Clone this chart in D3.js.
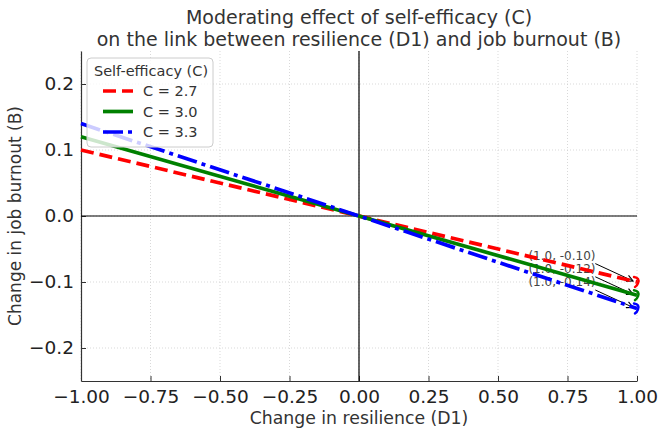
<!DOCTYPE html>
<html><head><meta charset="utf-8">
<script src="https://cdn.jsdelivr.net/npm/d3@7"></script>
<style>body{margin:0;background:#fff;} svg{display:block;font-family:"DejaVu Sans",sans-serif;}</style>
</head><body>
<svg id="chart" width="662" height="435"></svg>
<script>
const seriesNames = ["C = 2.7", "C = 3.0", "C = 3.3"];
const seriesColors = ["#ff0000", "#008000", "#0000ff"];
const slopes = [-0.10, -0.12, -0.14];
const xValues = [-1.0, 1.0];
const xTicks = [-1.0, -0.75, -0.5, -0.25, 0.0, 0.25, 0.5, 0.75, 1.0];
const yTicks = [-0.2, -0.1, 0.0, 0.1, 0.2];
const annotLabels = ["(1.0, -0.10)", "(1.0, -0.12)", "(1.0, -0.14)"];

const svg = d3.select("#chart");
const L = 81, R = 637, T = 51, B = 381;
const x = d3.scaleLinear().domain([-1, 1]).range([L, R]);
const y = d3.scaleLinear().domain([-0.25, 0.25]).range([B, T]);

// grid
const g = svg.append("g");
g.selectAll(".vg").data(xTicks).join("line")
  .attr("x1", d => x(d)).attr("x2", d => x(d)).attr("y1", T).attr("y2", B)
  .attr("stroke", "#cfcfcf").attr("stroke-width", 0.8).attr("stroke-dasharray", "1,2");
g.selectAll(".hg").data(yTicks).join("line")
  .attr("x1", L).attr("x2", R).attr("y1", d => y(d)).attr("y2", d => y(d))
  .attr("stroke", "#cfcfcf").attr("stroke-width", 0.8).attr("stroke-dasharray", "1,2");

// axes
const xAxis = d3.axisBottom(x).tickValues(xTicks).tickFormat(d3.format(".2f")).tickSizeInner(-5).tickSizeOuter(0).tickPadding(9);
const yAxis = d3.axisLeft(y).tickValues(yTicks).tickFormat(d3.format(".1f")).tickSizeInner(-5).tickSizeOuter(0).tickPadding(7);
const gx = svg.append("g").attr("transform", `translate(0,${B})`).call(xAxis);
const gy = svg.append("g").attr("transform", `translate(${L},0)`).call(yAxis);
[gx, gy].forEach(a => {
  a.selectAll("text").attr("font-size", 18.5).attr("fill", "#222").attr("font-family", "DejaVu Sans");
  a.select(".domain").attr("stroke", "#333").attr("stroke-width", 1.2);
  a.selectAll(".tick line").attr("stroke", "#333").attr("stroke-width", 1);
});

// zero lines
svg.append("line").attr("x1", L).attr("x2", R).attr("y1", y(0)).attr("y2", y(0)).attr("stroke", "#000").attr("stroke-width", 1.2);
svg.append("line").attr("x1", x(0)).attr("x2", x(0)).attr("y1", T).attr("y2", B).attr("stroke", "#000").attr("stroke-width", 1.2);

// annotations (text + arrows)
const defs = svg.append("defs");
defs.append("marker").attr("id", "ah").attr("viewBox", "0 0 10 10").attr("refX", 9).attr("refY", 5)
  .attr("markerWidth", 8).attr("markerHeight", 8).attr("orient", "auto")
  .append("path").attr("d", "M1,1 L9,5 L1,9").attr("fill", "none").attr("stroke", "#000").attr("stroke-width", 1.4);
slopes.forEach((s, i) => {
  const ty = s + 0.04;
  svg.append("text").attr("x", x(0.73)).attr("y", y(ty)).attr("dy", "0.35em")
    .attr("text-anchor", "middle").attr("font-size", 12).attr("fill", "#444").text(annotLabels[i]);
  svg.append("line").attr("x1", x(0.85)).attr("y1", y(ty) + 8).attr("x2", x(1.0) - 4).attr("y2", y(s) - 1)
    .attr("stroke", "#000").attr("stroke-width", 1).attr("marker-end", "url(#ah)");
});

// lines
const dashes = ["13,6", null, "20,5,4,5"];
const lineGen = d3.line().x(d => x(d[0])).y(d => y(d[1]));
slopes.forEach((s, i) => {
  const pts = xValues.map(v => [v, s * v]);
  svg.append("path").attr("d", lineGen(pts)).attr("fill", "none")
    .attr("stroke", seriesColors[i]).attr("stroke-width", 3.7)
    .attr("stroke-dasharray", dashes[i]);
  const ex = x(1.0), ey = y(s);
  svg.append("path").attr("d", `M${ex-3},${ey-5} Q${ex+3},${ey-4} ${ex+1},${ey+1} Q${ex},${ey+4} ${ex-2},${ey+5}`)
    .attr("fill", "none").attr("stroke", seriesColors[i]).attr("stroke-width", 2.5).attr("stroke-linecap", "round");
});

// legend
const lg = svg.append("g");
lg.append("rect").attr("x", 87).attr("y", 58).attr("width", 126).attr("height", 89).attr("rx", 4)
  .attr("fill", "#fff").attr("fill-opacity", 0.8).attr("stroke", "#ccc").attr("stroke-width", 1);
lg.append("text").attr("x", 151).attr("y", 76).attr("text-anchor", "middle").attr("font-size", 14.5).attr("fill", "#333").text("Self-efficacy (C)");
seriesNames.forEach((n, i) => {
  const yy = 91 + i * 20.5;
  lg.append("line").attr("x1", 103).attr("x2", 133).attr("y1", yy).attr("y2", yy)
    .attr("stroke", seriesColors[i]).attr("stroke-width", 3.7).attr("stroke-dasharray", dashes[i]);
  lg.append("text").attr("x", 143).attr("y", yy).attr("dy", "0.35em").attr("font-size", 14.5).attr("fill", "#333").text(n);
});

// titles
svg.append("text").attr("x", 359).attr("y", 24).attr("text-anchor", "middle").attr("font-size", 19).attr("fill", "#333").text("Moderating effect of self-efficacy (C)");
svg.append("text").attr("x", 359).attr("y", 46).attr("text-anchor", "middle").attr("font-size", 19).attr("fill", "#333").text("on the link between resilience (D1) and job burnout (B)");
svg.append("text").attr("x", 359).attr("y", 424).attr("text-anchor", "middle").attr("font-size", 17.3).attr("fill", "#333").text("Change in resilience (D1)");
svg.append("text").attr("transform", `translate(21,${y(0)}) rotate(-90)`).attr("text-anchor", "middle").attr("font-size", 17).attr("fill", "#333").text("Change in job burnout (B)");
</script>
</body></html>
